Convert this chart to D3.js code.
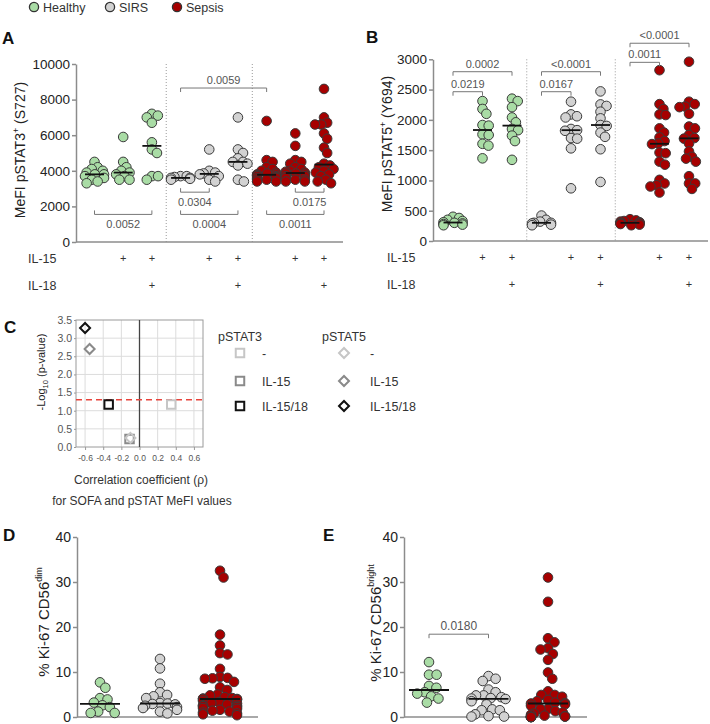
<!DOCTYPE html>
<html>
<head>
<meta charset="utf-8">
<script src="https://cdn.jsdelivr.net/npm/d3@7"></script>
<style>
  body { margin: 0; background: #fff; }
  svg { font-family: "Liberation Sans", Arial, sans-serif; }
</style>
</head>
<body>
<script>
// ---- data ----
var groupNames = ["Healthy", "SIRS", "Sepsis"];
var groupFill = ["#a9dca5", "#d2d2d2", "#a60000"];
var il15Row = ["", "+", "+"];
var il18Row = ["", "", "+"];

// A: MeFI pSTAT3 (S727); per group: unstimulated, IL-15, IL-15/18
var stat3Healthy = [
  [4500, 4200, 4100, 4000, 3900, 3800, 3800, 3700, 3600, 3500, 3400, 3300],
  [5900, 4500, 4200, 4000, 3900, 3800, 3700, 3500, 3500],
  [7200, 7100, 7000, 6700, 5600, 5200, 5000, 3700, 3700, 3500]
];
var stat3Sirs = [
  [3700, 3700, 3650, 3600, 3600, 3550, 3500],
  [5200, 4000, 3900, 3850, 3800, 3700, 3500, 3400],
  [7000, 5200, 5000, 4700, 4500, 4500, 4400, 4300, 3500, 3400]
];
var stat3Sepsis = [
  [6800, 4600, 4500, 4200, 4100, 4000, 3900, 3850, 3800, 3800, 3750, 3700, 3700, 3650, 3600, 3600, 3500, 3500, 3400, 3400],
  [6100, 5400, 4600, 4500, 4400, 4200, 4100, 4000, 3950, 3900, 3850, 3850, 3800, 3700, 3700, 3600, 3500, 3500, 3400, 3400],
  [8600, 7000, 6700, 6600, 6600, 6100, 5800, 5300, 5000, 4400, 4300, 4200, 4100, 4000, 3900, 3800, 3700, 3500, 3400, 3300]
];
var stat3Ticks = [0, 2000, 4000, 6000, 8000, 10000];
var stat3Brackets = [
  { from: 3, to: 6, level: 8650, p: "0.0059", side: "above" },
  { from: 0, to: 2, level: 1550, p: "0.0052", side: "below" },
  { from: 3, to: 4, level: 2800, p: "0.0304", side: "below" },
  { from: 3, to: 5, level: 1550, p: "0.0004", side: "below" },
  { from: 7, to: 8, level: 2800, p: "0.0175", side: "below" },
  { from: 6, to: 8, level: 1550, p: "0.0011", side: "below" }
];

// B: MeFI pSTAT5 (Y694)
var stat5Healthy = [
  [400, 380, 350, 330, 310, 300, 290, 280, 270, 260],
  [2310, 2180, 2100, 1915, 1905, 1760, 1750, 1605, 1575, 1365],
  [2350, 2310, 2210, 2040, 1960, 1850, 1830, 1740, 1650, 1340]
];
var stat5Sirs = [
  [420, 350, 320, 300, 300, 290, 270, 260],
  [2300, 2090, 2060, 2040, 1850, 1830, 1820, 1700, 1690, 1530, 870],
  [2470, 2255, 2230, 2135, 2025, 1915, 1900, 1790, 1720, 1515, 975]
];
var stat5Sepsis = [
  [360, 340, 330, 320, 310, 300, 300, 295, 290, 280, 270, 260],
  [2820, 2260, 2180, 2090, 2080, 1860, 1790, 1710, 1650, 1610, 1600, 1460, 1450, 1310, 1260, 1010, 950, 920, 900, 800],
  [2960, 2300, 2260, 2220, 2210, 2100, 1890, 1860, 1750, 1700, 1690, 1610, 1480, 1390, 1360, 1310, 1070, 950, 950, 860]
];
var stat5Ticks = [0, 500, 1000, 1500, 2000, 2500, 3000];
var stat5Brackets = [
  { from: 0, to: 1, level: 2465, p: "0.0219", side: "above" },
  { from: 0, to: 2, level: 2795, p: "0.0002", side: "above" },
  { from: 3, to: 4, level: 2465, p: "0.0167", side: "above" },
  { from: 3, to: 5, level: 2795, p: "<0.0001", side: "above" },
  { from: 6, to: 7, level: 2950, p: "0.0011", side: "above" },
  { from: 6, to: 8, level: 3265, p: "<0.0001", side: "above" }
];

// C: correlation of SOFA with pSTAT MeFI
var corrConditions = ["-", "IL-15", "IL-15/18"];
var corrShade = ["#c6c6c6", "#8a8a8a", "#111111"];
var stat3Rho = [0.35, -0.11, -0.34];
var stat3LogP = [1.17, 0.22, 1.17];
var stat5Rho = [-0.10, -0.55, -0.60];
var stat5LogP = [0.25, 2.70, 3.28];
var rhoTicks = [-0.6, -0.4, -0.2, 0, 0.2, 0.4, 0.6];
var logPTicks = [0, 0.5, 1, 1.5, 2, 2.5, 3, 3.5];
var logPThreshold = -Math.log10(0.05);

// D: % Ki-67 CD56dim
var ki67Dim = [
  [7.7, 6.5, 4.2, 3.9, 3.2, 2.6, 2.2, 1.2, 0.9, 0.9],
  [12.9, 10.8, 7.4, 5.5, 4.9, 4.6, 4.2, 3.1, 3.0, 2.9, 2.8, 2.5, 2.2, 2.0, 1.6, 1.2, 0.8],
  [32.5, 31.0, 18.3, 15.9, 14.2, 13.9, 10.7, 8.9, 8.7, 8.6, 8.5, 7.8, 6.6, 6.0, 5.0, 4.8, 4.4, 4.2, 4.1, 4.0,
   4.0, 3.9, 3.6, 3.3, 3.1, 3.0, 2.8, 2.6, 2.5, 2.4, 2.2, 2.0, 1.8, 1.6, 1.4, 1.2, 1.0, 0.8, 0.6, 0.4]
];
// E: % Ki-67 CD56bright
var ki67Bright = [
  [12.2, 9.4, 9.4, 6.9, 6.5, 5.5, 5.2, 4.6, 4.1, 3.2],
  [9.1, 8.5, 8.0, 6.1, 5.5, 4.8, 4.8, 4.4, 4.2, 4.1, 4.0, 3.5, 2.8, 1.7, 1.5, 1.5, 0.6, 0.2, 0.1, 0.1],
  [31.0, 25.6, 17.5, 16.6, 15.3, 15.0, 14.0, 12.7, 9.9, 8.5, 5.7, 4.9, 4.9, 4.5, 3.8, 3.5, 3.2, 3.1, 3.0,
   2.8, 2.5, 1.8, 1.8, 1.3, 1.0, 0.8, 0.5, 0.3, 0.2, 0.1, 0.1, 0.1, 0, 0, 0, 0, 0]
];
var ki67Ticks = [0, 10, 20, 30, 40];
var ki67Brackets = [
  { from: 0, to: 1, level: 18.4, p: "0.0180", side: "above" }
];

// ---- drawing ----
var svg = d3.select("body").append("svg")
    .attr("width", 710)
    .attr("height", 724);

// simple beeswarm: place each point at the smallest offset that keeps distance sep
function swarm(values, y, cx, sep, maxW) {
    var pts = values.map(v => ({ v: v, y: y(v) })).sort((a, b) => a.y - b.y);
    var placed = [];
    pts.forEach(p => {
        var cands = [0];
        placed.forEach(q => {
            var dy = p.y - q.y;
            if (Math.abs(dy) < sep) {
                var dx = Math.sqrt(sep * sep - dy * dy);
                cands.push(q.dx + dx + 0.01, q.dx - dx - 0.01);
            }
        });
        cands.sort((a, b) => Math.abs(a) - Math.abs(b));
        var best = cands.find(c => placed.every(q => (c - q.dx) * (c - q.dx) + (p.y - q.y) * (p.y - q.y) >= sep * sep - 0.1));
        if (best === undefined) best = 0;
        p.dx = Math.max(-maxW, Math.min(maxW, best));
        placed.push(p);
    });
    return pts.map(p => ({ v: p.v, x: cx + p.dx, y: p.y }));
}

function drawDots(g, cols, fills, x, y, opts) {
    cols.forEach((vals, i) => {
        var cx = x(i);
        var pts = swarm(vals, y, cx, opts.sep, opts.maxW);
        g.append("g").selectAll("circle").data(pts).join("circle")
            .attr("cx", d => d.x)
            .attr("cy", d => d.y)
            .attr("r", opts.r)
            .attr("fill", fills[i])
            .attr("stroke", "#3a3a3a")
            .attr("stroke-width", 1);
        var m = d3.median(vals);
        g.append("line")
            .attr("x1", cx - opts.med).attr("x2", cx + opts.med)
            .attr("y1", y(m)).attr("y2", y(m))
            .attr("stroke", "#111").attr("stroke-width", 1.8);
    });
}

function yAxis(g, y, x0, ticks, fs) {
    var ax = g.append("g")
        .attr("transform", "translate(" + x0 + ",0)")
        .call(d3.axisLeft(y).tickValues(ticks).tickFormat(d3.format("d"))
            .tickSize(4).tickSizeOuter(0).tickPadding(2));
    ax.attr("font-family", null).attr("font-size", fs);
    ax.select(".domain").attr("stroke", "#8c8c8c").attr("stroke-width", 1.5);
    ax.selectAll(".tick line").attr("stroke", "#8c8c8c").attr("stroke-width", 1.5);
    ax.selectAll(".tick text").attr("fill", "#222");
}

function xLine(g, x1, x2, y0) {
    g.append("line").attr("x1", x1).attr("x2", x2).attr("y1", y0).attr("y2", y0)
        .attr("stroke", "#8c8c8c").attr("stroke-width", 1.5);
}

function drawBrackets(g, list, x, y, fs) {
    list.forEach(b => {
        var x1 = x(b.from), x2 = x(b.to), yy = y(b.level);
        var s = b.side === "above" ? 1 : -1;
        g.append("path")
            .attr("d", "M" + x1 + "," + (yy + s * 4) + "V" + yy + "H" + x2 + "V" + (yy + s * 4))
            .attr("fill", "none").attr("stroke", "#777").attr("stroke-width", 1);
        g.append("text")
            .attr("x", (x1 + x2) / 2)
            .attr("y", b.side === "above" ? yy - 4 : yy + 14)
            .attr("text-anchor", "middle")
            .attr("fill", "#555")
            .attr("font-size", fs)
            .text(b.p);
    });
}

function rotLabel(g, x, y, fs, parts) {
    var t = g.append("text")
        .attr("transform", "translate(" + x + "," + y + ") rotate(-90)")
        .attr("text-anchor", "middle")
        .attr("font-size", fs)
        .attr("fill", "#222");
    parts.forEach(p => {
        var s = t.append("tspan").text(p.t);
        if (p.dy) s.attr("dy", p.dy);
        if (p.fs) s.attr("font-size", p.fs);
    });
}

function panelLetter(x, y, s) {
    svg.append("text").attr("x", x).attr("y", y)
        .attr("font-size", 17).attr("font-weight", "bold").attr("fill", "#111").text(s);
}

// legend
var legendX = [34, 110, 177];
var legend = svg.append("g");
groupNames.forEach((n, i) => {
    legend.append("circle").attr("cx", legendX[i]).attr("cy", 7).attr("r", 4.6)
        .attr("fill", groupFill[i]).attr("stroke", "#333").attr("stroke-width", 1.3);
    legend.append("text").attr("x", legendX[i] + 9).attr("y", 11.5)
        .attr("font-size", 12.5).attr("fill", "#333").text(n);
});

// stimulation panels (A, B)
function stimPanel(opts) {
    var g = svg.append("g");
    var cols = opts.healthy.concat(opts.sirs, opts.sepsis);
    var fills = cols.map((c, i) => groupFill[Math.floor(i / 3)]);
    var x = d3.scalePoint().domain(d3.range(9)).range(opts.colRange);
    var y = d3.scaleLinear().domain([0, opts.max]).range([opts.bottom, opts.top]);

    [2, 5].forEach(i => {
        var xm = (x(i) + x(i + 1)) / 2;
        g.append("line").attr("x1", xm).attr("x2", xm).attr("y1", y(opts.max)).attr("y2", y(0))
            .attr("stroke", "#9a9a9a").attr("stroke-width", 1).attr("stroke-dasharray", "1,2");
    });

    yAxis(g, y, opts.left, opts.ticks, 13.5);
    xLine(g, opts.left, opts.right, y(0));
    drawDots(g, cols, fills, x, y, { r: 4.8, sep: 6.2, maxW: 9.5, med: 9.5 });
    drawBrackets(g, opts.brackets, x, y, 11);

    // stimulation rows
    [["IL-15", il15Row, opts.row1], ["IL-18", il18Row, opts.row2]].forEach(r => {
        g.append("text").attr("x", opts.rowLabelX).attr("y", r[2] + 4.5)
            .attr("font-size", 12.5).attr("fill", "#333").text(r[0]);
        d3.range(9).forEach(i => {
            var s = r[1][i % 3];
            if (s) g.append("text").attr("x", x(i)).attr("y", r[2] + 4)
                .attr("text-anchor", "middle").attr("font-size", 11).attr("fill", "#333").text(s);
        });
    });
    rotLabel(g, opts.labelX, opts.labelY, 14, opts.label);
}

stimPanel({
    healthy: stat3Healthy, sirs: stat3Sirs, sepsis: stat3Sepsis,
    max: 10000, ticks: stat3Ticks, brackets: stat3Brackets,
    left: 76, right: 343, top: 64, bottom: 242, colRange: [94.5, 324],
    row1: 258, row2: 285, rowLabelX: 28,
    labelX: 25, labelY: 150,
    label: [{ t: "MeFI pSTAT3" }, { t: "+", dy: -6, fs: 9 }, { t: " (S727)", dy: 6 }]
});
stimPanel({
    healthy: stat5Healthy, sirs: stat5Sirs, sepsis: stat5Sepsis,
    max: 3000, ticks: stat5Ticks, brackets: stat5Brackets,
    left: 433, right: 708, top: 59.3, bottom: 241, colRange: [453, 689],
    row1: 257, row2: 284, rowLabelX: 387,
    labelX: 392, labelY: 144,
    label: [{ t: "MeFI pSTAT5" }, { t: "+", dy: -6, fs: 9 }, { t: " (Y694)", dy: 6 }]
});
panelLetter(2, 44, "A");
panelLetter(366, 43, "B");

// C: correlation plot
(function () {
    var g = svg.append("g");
    var x = d3.scaleLinear().domain([-0.7, 0.7]).range([76, 203]);
    var y = d3.scaleLinear().domain([0, 3.5]).range([447, 320]);

    g.append("g").selectAll("line.v").data(rhoTicks.filter(d => d !== 0)).join("line")
        .attr("x1", d => x(d)).attr("x2", d => x(d)).attr("y1", y(0)).attr("y2", y(3.5))
        .attr("stroke", "#dcdcdc").attr("stroke-width", 1);
    g.append("g").selectAll("line.h").data(logPTicks.slice(1, -1)).join("line")
        .attr("x1", x(-0.7)).attr("x2", x(0.7)).attr("y1", d => y(d)).attr("y2", d => y(d))
        .attr("stroke", "#dcdcdc").attr("stroke-width", 1);
    g.append("rect").attr("x", x(-0.7)).attr("y", y(3.5))
        .attr("width", x(0.7) - x(-0.7)).attr("height", y(0) - y(3.5))
        .attr("fill", "none").attr("stroke", "#9a9a9a").attr("stroke-width", 1);
    g.append("line").attr("x1", x(0)).attr("x2", x(0)).attr("y1", y(0)).attr("y2", y(3.5))
        .attr("stroke", "#444").attr("stroke-width", 1.3);
    g.append("line").attr("x1", x(-0.7)).attr("x2", x(0.7))
        .attr("y1", y(logPThreshold)).attr("y2", y(logPThreshold))
        .attr("stroke", "#e8443c").attr("stroke-width", 1.5).attr("stroke-dasharray", "6,4");

    var ay = g.append("g").attr("transform", "translate(" + x(-0.7) + ",0)")
        .call(d3.axisLeft(y).tickValues(logPTicks).tickFormat(d => d.toFixed(1)).tickSize(2).tickSizeOuter(0).tickPadding(2));
    ay.attr("font-family", null).attr("font-size", 10.5);
    ay.select(".domain").remove();
    ay.selectAll(".tick line").attr("stroke", "#9a9a9a");
    ay.selectAll(".tick text").attr("fill", "#555");

    var ax = g.append("g").attr("transform", "translate(0," + y(0) + ")")
        .call(d3.axisBottom(x).tickValues(rhoTicks).tickFormat(d => d.toFixed(1)).tickSize(3).tickSizeOuter(0).tickPadding(5));
    ax.attr("font-family", null).attr("font-size", 8.5);
    ax.select(".domain").remove();
    ax.selectAll(".tick line").attr("stroke", "#9a9a9a");
    ax.selectAll(".tick text").attr("fill", "#555");

    var square = d3.symbol(d3.symbolSquare, 72)();
    var diamond = d3.symbol(d3.symbolSquare, 50)();
    stat3Rho.forEach((r, i) => {
        g.append("path").attr("d", square)
            .attr("transform", "translate(" + x(r) + "," + y(stat3LogP[i]) + ")")
            .attr("fill", "none").attr("stroke", corrShade[i]).attr("stroke-width", 2);
    });
    stat5Rho.forEach((r, i) => {
        g.append("path").attr("d", diamond)
            .attr("transform", "translate(" + x(r) + "," + y(stat5LogP[i]) + ") rotate(45)")
            .attr("fill", "none").attr("stroke", corrShade[i]).attr("stroke-width", 2);
    });

    rotLabel(g, 45, 372, 11, [{ t: "-Log" }, { t: "10", dy: 3, fs: 7.5 }, { t: " (p-value)", dy: -3 }]);
    g.append("text").attr("x", 141).attr("y", 484).attr("text-anchor", "middle")
        .attr("font-size", 12).attr("fill", "#333").text("Correlation coefficient (\u03c1)");
    g.append("text").attr("x", 142).attr("y", 505).attr("text-anchor", "middle")
        .attr("font-size", 12).attr("fill", "#333").text("for SOFA and pSTAT MeFI values");

    // legend
    var lg = svg.append("g");
    var rows = [353, 381, 406];
    lg.append("text").attr("x", 218).attr("y", 341).attr("font-size", 12.5).attr("fill", "#333").text("pSTAT3");
    lg.append("text").attr("x", 322).attr("y", 341).attr("font-size", 12.5).attr("fill", "#333").text("pSTAT5");
    corrConditions.forEach((c, i) => {
        lg.append("path").attr("d", square).attr("transform", "translate(240," + rows[i] + ")")
            .attr("fill", "none").attr("stroke", corrShade[i]).attr("stroke-width", 2);
        lg.append("text").attr("x", 262).attr("y", rows[i] + 4.5).attr("font-size", 12.5).attr("fill", "#333").text(c);
        lg.append("path").attr("d", diamond).attr("transform", "translate(344," + rows[i] + ") rotate(45)")
            .attr("fill", "none").attr("stroke", corrShade[i]).attr("stroke-width", 2);
        lg.append("text").attr("x", 370).attr("y", rows[i] + 4.5).attr("font-size", 12.5).attr("fill", "#333").text(c);
    });
})();
panelLetter(4, 333, "C");

// D, E: Ki-67 panels
function kiPanel(opts) {
    var g = svg.append("g");
    var x = d3.scalePoint().domain(d3.range(3)).range(opts.colRange);
    var y = d3.scaleLinear().domain([0, 40]).range([717, 537]);
    yAxis(g, y, opts.left, ki67Ticks, 14);
    xLine(g, opts.left, opts.right, y(0));
    drawDots(g, opts.data, groupFill, x, y, { r: 4.8, sep: 7.6, maxW: 17, med: 20 });
    if (opts.brackets) drawBrackets(g, opts.brackets, x, y, 12);
    rotLabel(g, opts.labelX, opts.labelY, 15, opts.label);
}
kiPanel({
    data: ki67Dim, left: 77, right: 258, colRange: [100, 220],
    labelX: 49, labelY: 622,
    label: [{ t: "% Ki-67 CD56" }, { t: "dim", dy: -7, fs: 9 }]
});
kiPanel({
    data: ki67Bright, left: 404, right: 587, colRange: [429, 548], brackets: ki67Brackets,
    labelX: 381, labelY: 623,
    label: [{ t: "% Ki-67 CD56" }, { t: "bright", dy: -7, fs: 9 }]
});
panelLetter(3, 541, "D");
panelLetter(323, 541, "E");
</script>
</body>
</html>
